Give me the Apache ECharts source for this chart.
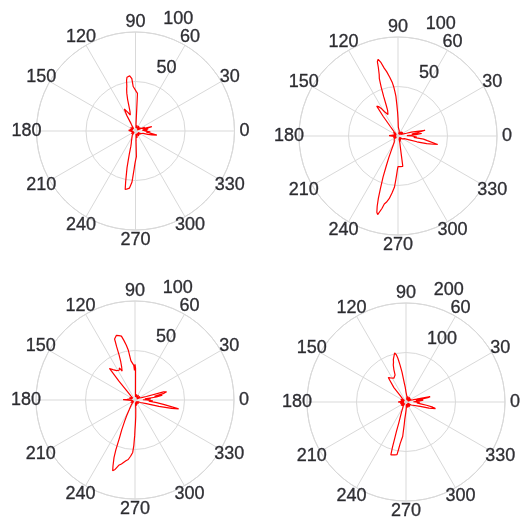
<!DOCTYPE html>
<html>
<head>
<meta charset="utf-8">
<script src="https://cdn.jsdelivr.net/npm/echarts@6/dist/echarts.min.js"></script>
<style>
  html, body { margin: 0; padding: 0; background: #ffffff; }
  #chart { width: 523px; height: 525px; }
</style>
</head>
<body>
<div id="chart"></div>
<script>
// Angle tick labels (degrees), shared by all four roses
const angleTicks = [0, 30, 60, 90, 120, 150, 180, 210, 240, 270, 300, 330];

// Radial ring values for each rose
const ringsA = [50, 100];
const ringsB = [50, 100];
const ringsC = [50, 100];
const ringsD = [100, 200];

// Rose outlines: [angle in degrees, radius]
const roseA = [
  [0, 9], [3, 12], [6, 7], [9, 13], [12, 8], [15, 17], [17, 16], [19, 7], [22, 10],
  [25, 5], [30, 2], [35, 6], [40, 3], [45, 5], [50, 2], [55, 6], [60, 3], [65, 5],
  [70, 2], [75, 6], [80, 3], [84, 5], [86, 8], [87, 38], [89, 40], [91, 42], [93, 45],
  [94, 53], [96, 56], [97, 58], [99, 55], [100, 52], [101, 46], [102, 43], [103, 39],
  [104, 33], [105, 24], [106, 20], [108, 17], [110, 18], [113, 21], [115, 23], [117, 25],
  [118, 24], [119, 18], [121, 9], [125, 6], [130, 3], [135, 5], [140, 2], [145, 6],
  [150, 3], [155, 5], [160, 2], [165, 6], [170, 3], [175, 7], [180, 8], [185, 4],
  [190, 6], [195, 3], [200, 6], [205, 2], [210, 5], [215, 3], [220, 6], [225, 2],
  [230, 5], [235, 3], [240, 6], [245, 9], [248, 11], [251, 13], [253, 16], [255, 24],
  [256, 30], [257, 38], [258, 44], [259, 52], [260, 60], [262, 59], [264, 58],
  [265.5, 57], [266, 52], [266.5, 48], [267, 46], [268, 38], [269, 33], [270, 30],
  [271, 28], [272, 26], [273, 10], [276, 6], [280, 3], [285, 7], [290, 3], [295, 5],
  [300, 2], [305, 6], [310, 3], [315, 5], [320, 2], [325, 6], [330, 3], [335, 6],
  [340, 5], [342, 8], [345, 13], [347, 17], [349, 22], [350, 21], [352, 14], [354, 11],
  [357, 15], [360, 9]
];

const roseB = [
  [0, 14], [2, 9], [4, 18], [6, 24], [7, 25], [8, 14], [10, 20], [12, 28], [13, 29.5],
  [15, 28], [16, 14], [18, 9], [21, 6], [25, 8], [30, 3], [35, 6], [40, 3], [45, 6],
  [50, 2], [55, 5], [60, 3], [65, 6], [70, 2], [75, 5], [80, 3], [85, 6], [88, 9],
  [90, 18], [91, 24], [92, 31], [93, 40], [94, 45], [95, 50], [96, 54], [98, 60],
  [100, 66], [101.5, 70], [103, 76], [104.5, 80], [105.5, 78], [106, 72], [107, 65],
  [108, 61], [109, 52], [110, 42], [111, 33], [112, 28], [113.5, 30], [115, 24],
  [117, 26], [119, 28], [121, 32], [123, 35], [125.5, 37], [127, 25], [129, 12],
  [132, 6], [136, 3], [140, 6], [145, 2], [150, 5], [155, 3], [160, 6], [165, 2],
  [170, 5], [175, 4], [178, 9], [182, 8], [186, 4], [190, 6], [195, 2], [200, 5],
  [205, 3], [210, 6], [215, 2], [220, 5], [225, 3], [230, 6], [235, 4], [238, 7],
  [242, 10], [245, 16], [247, 24], [248.5, 32], [250, 44], [251.5, 56], [252.5, 66],
  [253.5, 74], [254.5, 80], [255.5, 82], [256.5, 80], [257.5, 75], [258.6, 70],
  [260, 68], [262, 64], [264, 58], [266, 52], [267, 45], [268, 39], [269, 34],
  [270, 31], [272, 30], [274, 31], [277, 33], [279, 31], [281, 14], [285, 7],
  [290, 3], [295, 6], [300, 2], [305, 5], [310, 3], [315, 6], [320, 2], [325, 5],
  [330, 3], [334, 6], [337, 7], [341, 12], [343, 20], [345, 30], [347, 37], [348, 41],
  [349, 39], [351, 30], [353, 26], [355, 16], [357, 19], [360, 14]
];

const roseC = [
  [0, 12], [2, 8], [4, 16], [6, 10], [8, 22], [10, 28], [11, 20], [13, 30], [14.5, 33],
  [16, 30], [17, 12], [20, 7], [25, 5], [30, 2], [35, 6], [40, 3], [45, 5], [50, 2],
  [55, 6], [60, 3], [65, 5], [70, 2], [75, 6], [80, 3], [85, 6], [88, 8], [89, 32],
  [90, 36], [91, 30], [92, 35], [94, 37], [96, 40], [97.7, 51], [99, 56], [100.5, 61],
  [102, 66], [104, 67], [106, 68], [107.5, 68], [108.5, 65], [109, 57], [109.5, 48],
  [110.5, 41], [112, 36], [114, 32], [116, 36], [118, 34], [120, 33], [122, 35],
  [124, 34], [126, 38], [129, 41], [130.5, 25], [132, 12], [135, 6], [140, 3],
  [145, 5], [150, 2], [155, 6], [160, 3], [165, 5], [170, 6], [175, 8], [178, 12],
  [182, 10], [186, 4], [190, 6], [195, 3], [200, 6], [205, 2], [210, 5], [215, 3],
  [220, 6], [225, 2], [230, 5], [233, 6], [236, 8], [239, 11], [242, 18], [244, 24],
  [246, 33], [247.5, 40], [249, 54], [250, 62], [251.5, 70], [252.5, 75], [254, 73],
  [256, 68], [258, 66], [259.5, 64.5], [261.5, 62], [263.5, 60.5], [265.5, 57],
  [267.5, 53], [268.5, 46], [269.5, 36], [270, 30], [271, 24], [272.5, 17], [275, 9],
  [280, 3], [285, 6], [290, 2], [295, 5], [300, 3], [305, 6], [310, 2], [315, 5],
  [320, 3], [325, 6], [330, 3], [335, 6], [338, 6], [342, 12], [345, 25], [347, 38],
  [348.5, 45], [350, 43], [351, 30], [353, 22], [355, 14], [357, 18], [360, 12]
];

const roseD = [
  [0, 20], [2, 15], [4, 28], [6, 35], [7, 30], [9, 20], [11, 45], [12.5, 50], [14, 48],
  [15, 22], [18, 14], [22, 10], [26, 4], [30, 12], [35, 5], [40, 11], [45, 4],
  [50, 12], [55, 5], [60, 11], [65, 4], [70, 12], [75, 5], [80, 11], [84, 8], [87, 14],
  [90, 20], [93, 30], [95, 38], [96.5, 48], [97.6, 61], [99.2, 76], [100.5, 90],
  [101.5, 97], [103, 102], [104.5, 106], [105.5, 100], [106.5, 90], [107.5, 84],
  [109, 79], [110.5, 70], [112, 59], [114, 56], [117, 54], [120, 55], [123, 58],
  [126, 61], [128, 64], [130, 38], [132, 18], [136, 10], [140, 4], [145, 11],
  [150, 5], [155, 12], [160, 4], [165, 11], [170, 6], [175, 12], [180, 16], [185, 10],
  [190, 4], [195, 12], [200, 5], [205, 11], [210, 4], [215, 12], [220, 5], [225, 11],
  [230, 4], [235, 10], [242, 14], [246, 22], [249, 32], [251, 45], [252, 62],
  [252.8, 78], [253.3, 95], [254, 111], [256, 110], [258, 109], [260.3, 108],
  [261.2, 95], [262, 85], [263, 78], [264.5, 70], [265, 55], [265.5, 45], [266, 34],
  [268, 24], [270, 18], [273, 12], [277, 5], [280, 11], [285, 4], [290, 12], [295, 5],
  [300, 11], [305, 4], [310, 12], [315, 5], [320, 11], [325, 4], [330, 12], [335, 9],
  [340, 14], [343, 30], [345, 48], [347.5, 61], [349, 55], [351, 42], [353, 30],
  [355, 22], [357, 28], [360, 20]
];

const roses = [roseA, roseB, roseC, roseD];
const rings = [ringsA, ringsB, ringsC, ringsD];

// Layout of the 2x2 grid of polar plots
const layout = [
  { center: [135.5, 131], radius: 99 },
  { center: [398, 136], radius: 99 },
  { center: [135, 400], radius: 99 },
  { center: [406, 402], radius: 99 }
];

const gridColor = '#d9d9d9';
const textColor = '#000000';
const fontFamily = '"Liberation Sans", Arial, Helvetica, sans-serif';
const fontSize = 18;
const ringLabelAngle = 82;

const labelText = {
  show: true,
  position: 'inside',
  color: textColor,
  fontSize: fontSize,
  fontFamily: fontFamily,
  textBorderColor: '#101030',
  textBorderWidth: 0.35
};

const polar = [], angleAxis = [], radiusAxis = [], series = [];

roses.forEach((rose, i) => {
  const ticks = rings[i];
  const rMax = ticks[ticks.length - 1];
  const step = ticks[1] - ticks[0];

  polar.push({ center: layout[i].center, radius: layout[i].radius });

  angleAxis.push({
    polarIndex: i,
    type: 'value',
    min: 0,
    max: 360,
    interval: 30,
    startAngle: 0,
    clockwise: false,
    axisLine: { show: true, lineStyle: { color: gridColor, width: 1 } },
    axisTick: { show: false },
    axisLabel: { show: false },
    splitLine: { show: true, lineStyle: { color: gridColor, width: 1 } }
  });

  radiusAxis.push({
    polarIndex: i,
    type: 'value',
    min: 0,
    max: rMax,
    interval: step,
    axisLine: { show: false },
    axisTick: { show: false },
    axisLabel: { show: false },
    splitLine: { show: true, lineStyle: { color: gridColor, width: 1 } }
  });

  // the rose outline
  series.push({
    type: 'line',
    coordinateSystem: 'polar',
    polarIndex: i,
    data: rose.map(p => [p[1], p[0]]),
    showSymbol: false,
    symbol: 'none',
    clip: false,
    lineStyle: { color: '#ff0000', width: 1.2 },
    z: 5,
    animation: false
  });

  // angle labels, centred on a circle 10% outside the plot
  series.push({
    type: 'scatter',
    coordinateSystem: 'polar',
    polarIndex: i,
    clip: false,
    silent: true,
    symbolSize: 0.1,
    itemStyle: { color: 'rgba(0,0,0,0)' },
    data: angleTicks.map(a => [rMax * 1.1, a]),
    label: Object.assign({}, labelText, {
      align: 'center',
      verticalAlign: 'middle',
      formatter: p => String(p.value[1])
    }),
    animation: false
  });

  // ring value labels along the 82 degree direction
  series.push({
    type: 'scatter',
    coordinateSystem: 'polar',
    polarIndex: i,
    clip: false,
    silent: true,
    symbolSize: 0.1,
    itemStyle: { color: 'rgba(0,0,0,0)' },
    data: ticks.map(v => [v, ringLabelAngle]),
    label: Object.assign({}, labelText, {
      align: 'left',
      verticalAlign: 'bottom',
      offset: [14, -5],
      formatter: p => String(p.value[0])
    }),
    animation: false
  });
});

const chart = echarts.init(document.getElementById('chart'), null, { renderer: 'canvas' });
chart.setOption({
  backgroundColor: '#ffffff',
  animation: false,
  polar: polar,
  angleAxis: angleAxis,
  radiusAxis: radiusAxis,
  series: series
});
</script>
</body>
</html>
